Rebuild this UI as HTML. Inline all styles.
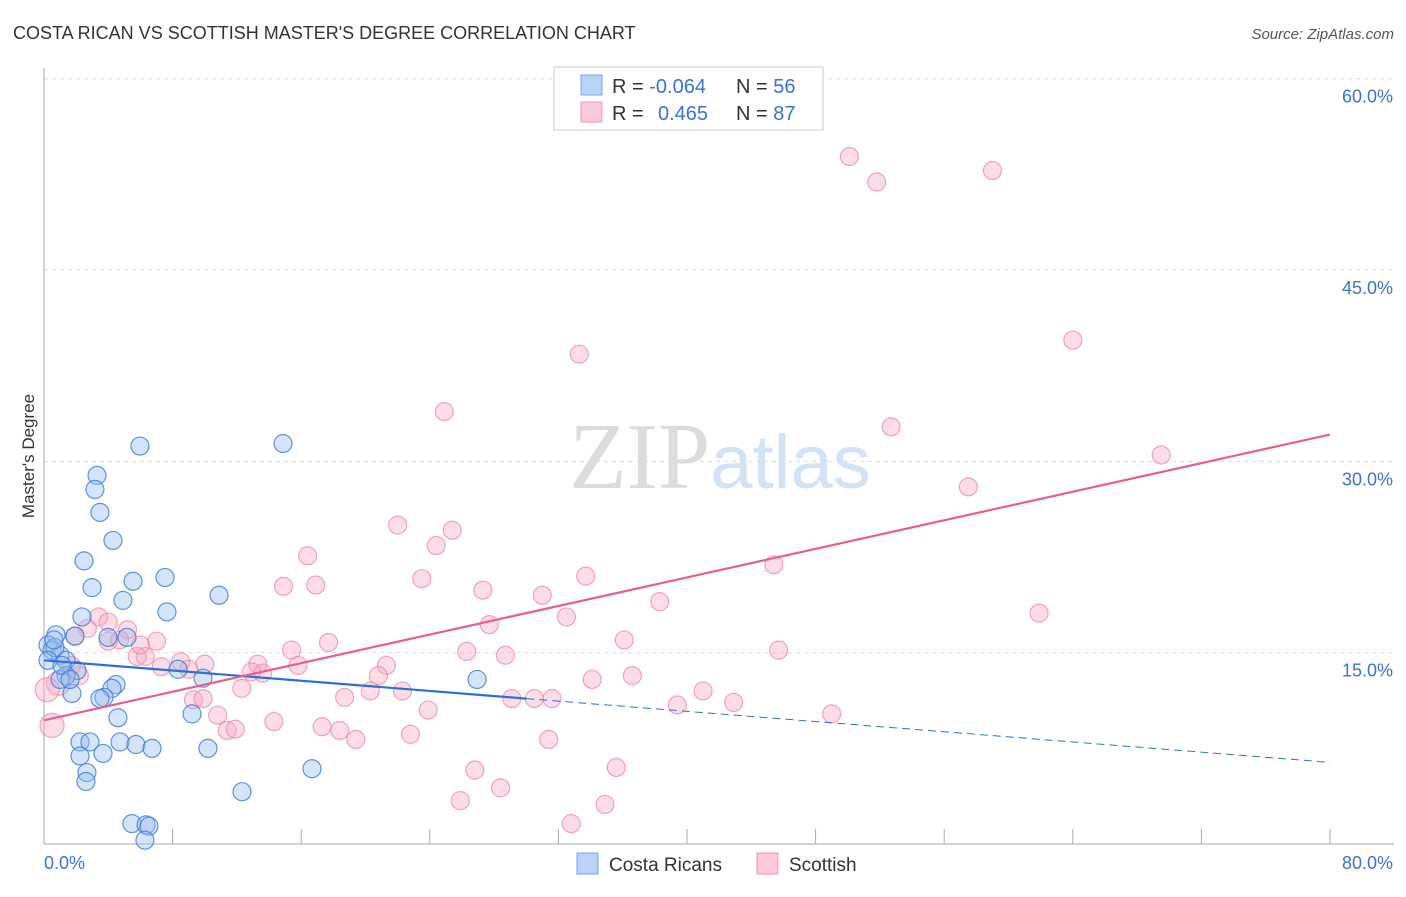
<!DOCTYPE html>
<html><head><meta charset="utf-8"><style>
body{margin:0;background:#fff;font-family:"Liberation Sans",sans-serif;}
svg text{font-family:"Liberation Sans",sans-serif;}
</style></head><body>
<svg id="chart" width="1406" height="892" xmlns="http://www.w3.org/2000/svg">
<text x="13" y="39" font-size="18" fill="#333">COSTA RICAN VS SCOTTISH MASTER'S DEGREE CORRELATION CHART</text>
<text x="1394" y="39" font-size="15" fill="#555" text-anchor="end" font-style="italic">Source: ZipAtlas.com</text>
<text x="720" y="488" font-size="94" text-anchor="middle"><tspan font-family="Liberation Serif" fill="#dcdcdc">ZIP</tspan><tspan fill="#d3e2f5" font-size="76">atlas</tspan></text>
<g id="grid"></g>
<g id="axes"></g>
<g id="pink"></g>
<g id="blue"></g>
<g id="lines"></g>
<text transform="translate(34,456) rotate(-90)" font-size="17" fill="#333" text-anchor="middle">Master's Degree</text>
<g>
<rect x="554" y="67" width="269" height="63" fill="#fff" stroke="#ccc"/>
<rect x="581" y="75" width="21" height="20" fill="#b8d3f5" stroke="#7aa6e6"/>
<rect x="581" y="102" width="21" height="20" fill="#fbc8d6" stroke="#ef9ab3"/>
<text x="612" y="93" font-size="20" fill="#333">R = <tspan fill="#3a72d8">-0.064</tspan></text>
<text x="736" y="93" font-size="20" fill="#333">N = <tspan fill="#3a72d8">56</tspan></text>
<text x="612" y="120" font-size="20" fill="#333">R = <tspan fill="#3a72d8" x="658">0.465</tspan></text>
<text x="736" y="120" font-size="20" fill="#333">N = <tspan fill="#3a72d8">87</tspan></text>
</g>
<g>
<rect x="577" y="853" width="21" height="21" fill="#b8d3f5" stroke="#7aa6e6"/>
<text x="609" y="871" font-size="19" fill="#333">Costa Ricans</text>
<rect x="757" y="853" width="21" height="21" fill="#fbc8d6" stroke="#ef9ab3"/>
<text x="789" y="871" font-size="19" fill="#333">Scottish</text>
</g>
</svg>
<script>
const blueX=[5.97,14.87,3.3,3.17,3.48,4.29,2.49,5.54,7.53,2.99,4.91,10.89,7.65,2.36,0.75,0.25,1.93,3.98,5.16,0.5,1.0,1.37,0.68,0.25,2.05,1.37,1.0,8.34,9.89,26.94,4.48,4.23,1.74,3.73,3.48,9.21,4.6,2.24,2.86,4.73,5.72,6.72,10.2,3.67,2.24,2.67,2.61,16.67,12.32,5.47,6.35,6.53,6.28,1.12,1.62,0.62];
const blueY=[31.2,31.4,28.9,27.8,26.0,23.8,22.2,20.6,20.9,20.1,19.1,19.5,18.2,17.8,16.4,15.6,16.3,16.2,16.2,15.2,14.8,14.4,15.4,14.4,13.6,13.2,12.9,13.7,13.0,12.9,12.5,12.2,11.8,11.5,11.4,10.2,9.9,8.0,8.0,8.0,7.8,7.5,7.5,7.1,6.9,5.6,4.9,5.9,4.1,1.6,1.5,1.4,0.3,14.0,12.9,16.0];
const pinkX=[50.1,51.8,59.0,64.0,33.3,24.9,52.7,69.5,57.5,22.0,25.4,24.4,16.4,45.4,33.7,23.5,14.9,16.9,27.3,31.0,38.3,61.9,32.5,3.4,4.0,27.7,5.2,2.7,1.9,17.7,36.1,7.0,4.0,45.7,15.4,26.3,28.7,6.3,5.8,8.5,10.0,7.3,9.0,13.3,15.8,21.3,13.6,12.9,20.8,34.1,36.6,2.2,0.9,12.3,20.3,22.3,41.0,18.7,30.5,31.6,29.1,9.3,9.9,42.9,39.4,23.9,10.8,49.0,14.3,0.5,17.3,18.4,11.4,11.9,22.8,19.4,31.4,26.8,35.6,28.4,25.9,34.9,32.8,1.7,4.7,6.0,0.2];
const pinkY=[53.9,51.9,52.8,39.5,38.4,33.9,32.7,30.5,28.0,25.0,24.6,23.4,22.6,21.9,21.0,20.8,20.2,20.3,19.9,19.5,19.0,18.1,17.8,17.8,17.4,17.2,16.8,16.9,16.3,15.8,16.0,15.9,15.9,15.2,15.2,15.1,14.8,14.7,14.7,14.3,14.1,13.9,13.7,14.1,14.0,14.0,13.4,13.5,13.2,12.9,13.2,13.2,12.6,12.2,12.0,12.0,12.0,11.5,11.4,11.4,11.4,11.3,11.4,11.1,10.9,10.5,10.1,10.2,9.6,9.3,9.2,8.9,8.9,9.0,8.6,8.2,8.2,5.8,6.0,4.4,3.4,3.1,1.6,14.0,16.0,15.6,12.1];
const yTicks=[15,30,45,60];
const yTickLabels=["15.0%","30.0%","45.0%","60.0%"];
const xTicks=[0,8,16,24,32,40,48,56,64,72,80];
const blueTrend=[14.4,6.4]; // y at x=0, x=80
const blueSolidEnd=30;
const pinkTrend=[9.7,32.1];

const NS="http://www.w3.org/2000/svg";
const X0=44,X1=1330,Y0=844,PXPER=12.755;
function sx(v){return X0+(X1-X0)*v/80;}
function sy(v){return Y0-v*PXPER;}
function mk(tag,attrs,parent){const e=document.createElementNS(NS,tag);for(const k in attrs)e.setAttribute(k,attrs[k]);parent.appendChild(e);return e;}
const grid=document.getElementById('grid'),axes=document.getElementById('axes');
yTicks.forEach((t,i)=>{
 const l=mk('line',{x1:X0,x2:1394,y1:sy(t),y2:sy(t),stroke:'#ddd','stroke-dasharray':'4,4'},grid);
 
 
 const tx=mk('text',{x:1393,y:sy(t)+24,'font-size':18,fill:'#3a72d8','text-anchor':'end'},axes);
 tx.textContent=yTickLabels[i];
 
 
});
mk('line',{x1:X0,x2:X0,y1:68,y2:Y0,stroke:'#aaa'},axes);
mk('line',{x1:X0,x2:1394,y1:Y0,y2:Y0,stroke:'#aaa'},axes);
xTicks.forEach(t=>{
 const l=mk('line',{x1:sx(t),x2:sx(t),y1:829,y2:Y0,stroke:'#aaa'},axes);
 
 
});
const xl0=mk('text',{x:44,y:869,'font-size':18,fill:'#3a72d8'},axes);xl0.textContent='0.0%';


const xl1=mk('text',{x:1393,y:869,'font-size':18,fill:'#3a72d8','text-anchor':'end'},axes);xl1.textContent='80.0%';


const pg=document.getElementById('pink');
pinkX.forEach((x,i)=>{
 const big=(x<1)&&pinkY[i]<13;
 const c=mk('circle',{cx:sx(x),cy:sy(pinkY[i]),r:big?12:9,fill:'rgba(248,170,195,0.4)',stroke:'rgba(235,130,160,0.7)','stroke-width':1.2},pg);
 
 
});
const bg=document.getElementById('blue');
blueX.forEach((x,i)=>{
 const c=mk('circle',{cx:sx(x),cy:sy(blueY[i]),r:9,fill:'rgba(150,190,240,0.4)',stroke:'rgba(60,120,215,0.8)','stroke-width':1.2},bg);
 
 
});
const lg=document.getElementById('lines');
function by(x){return blueTrend[0]+(blueTrend[1]-blueTrend[0])*x/80;}
const b1=mk('line',{x1:sx(0),y1:sy(by(0)),x2:sx(blueSolidEnd),y2:sy(by(blueSolidEnd)),stroke:'#2e6fd6','stroke-width':2.2},lg);


const b2=mk('line',{x1:sx(blueSolidEnd),y1:sy(by(blueSolidEnd)),x2:sx(80),y2:sy(by(80)),stroke:'#2e6fd6','stroke-width':1,'stroke-dasharray':'8,5'},lg);


const p1=mk('line',{x1:sx(0),y1:sy(pinkTrend[0]),x2:sx(80),y2:sy(pinkTrend[1]),stroke:'#e8608a','stroke-width':2.2},lg);


</script>
</body></html>
